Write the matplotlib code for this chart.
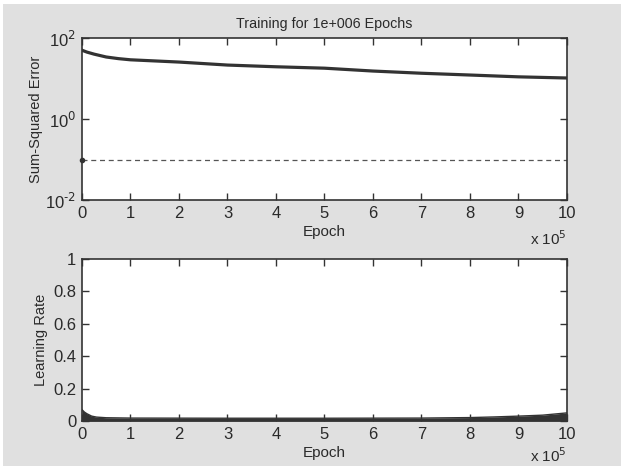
import matplotlib.pyplot as plt
from matplotlib.patches import Rectangle

plt.rcParams['font.family'] = ['Liberation Sans', 'DejaVu Sans']

# Sum-squared error (epochs, error)
sse_epochs = [0, 10000, 25000, 50000, 75000, 100000, 200000, 300000, 400000,
              500000, 600000, 700000, 800000, 900000, 1000000]
sse_values = [50, 45, 40, 34, 31, 29, 25.5, 21.5, 19.5, 18, 15.3, 13.5, 12.2, 11, 10.3]
goal = 0.1

# Learning rate
lr_epochs = [0, 5000, 10000, 20000, 30000, 50000, 100000, 300000, 500000,
             700000, 800000, 850000, 900000, 950000, 1000000]
lr_values = [0.07, 0.055, 0.045, 0.03, 0.024, 0.02, 0.018, 0.017, 0.017,
             0.018, 0.021, 0.025, 0.03, 0.036, 0.05]

x_ticks = list(range(0, 11))
scale = 1e5

bg = '#e0e0e0'
ink = '#2a2a2a'

fig = plt.figure(figsize=(6.21, 4.66), dpi=100, facecolor='white')
fig.patches.append(Rectangle((3 / 621, 0), 1, 1 - 4 / 466, transform=fig.transFigure,
                             facecolor=bg, edgecolor='none', zorder=-10))

ax1 = fig.add_axes([0.132, 0.5708, 0.781, 0.3476])
ax2 = fig.add_axes([0.132, 0.0966, 0.781, 0.3476])

# top panel
ax1.semilogy([e / scale for e in sse_epochs], sse_values, color='#333333', lw=2.3)
ax1.axhline(goal, color='#555555', lw=0.9, ls=(0, (4, 3)))
ax1.plot([0], [goal], 'o', color='#333333', ms=3, clip_on=False)
ax1.set_ylim(1e-2, 1e2)
ax1.set_yticks([1e-2, 1e0, 1e2])
ax1.set_yticklabels(['10$^{\\text{-}2}$', '10$^{0}$', '10$^{2}$'])
ax1.minorticks_off()
ax1.set_ylabel('Sum-Squared Error', fontsize=10.5, color=ink, labelpad=2)
ax1.set_title('Training for 1e+006 Epochs', fontsize=10.3, color=ink, pad=7)

# bottom panel
lr_x = [e / scale for e in lr_epochs]
ax2.fill_between(lr_x, 0, lr_values, color='#333333', lw=0)
ax2.plot(lr_x, lr_values, color='#333333', lw=1)
ax2.set_ylim(0, 1)
ax2.set_yticks([0, 0.2, 0.4, 0.6, 0.8, 1])
ax2.set_yticklabels(['0', '0.2', '0.4', '0.6', '0.8', '1'])
ax2.set_ylabel('Learning Rate', fontsize=10.5, color=ink, labelpad=4)

for ax, off in ((ax1, -0.24), (ax2, -0.215)):
    ax.set_xlim(0, 10)
    ax.set_xticks(x_ticks)
    ax.set_xlabel('Epoch', fontsize=11, color=ink, labelpad=3)
    ax.tick_params(direction='in', top=True, right=True, length=5, width=1,
                   labelsize=12, colors='#333333', labelcolor=ink, pad=4)
    for s in ax.spines.values():
        s.set_color('#333333')
        s.set_linewidth(1.2)
    ax.text(1.0, off, 'x 10$^5$', transform=ax.transAxes, ha='right', va='center',
            fontsize=11, color=ink)

plt.savefig('out.png', dpi=100, facecolor=fig.get_facecolor())
